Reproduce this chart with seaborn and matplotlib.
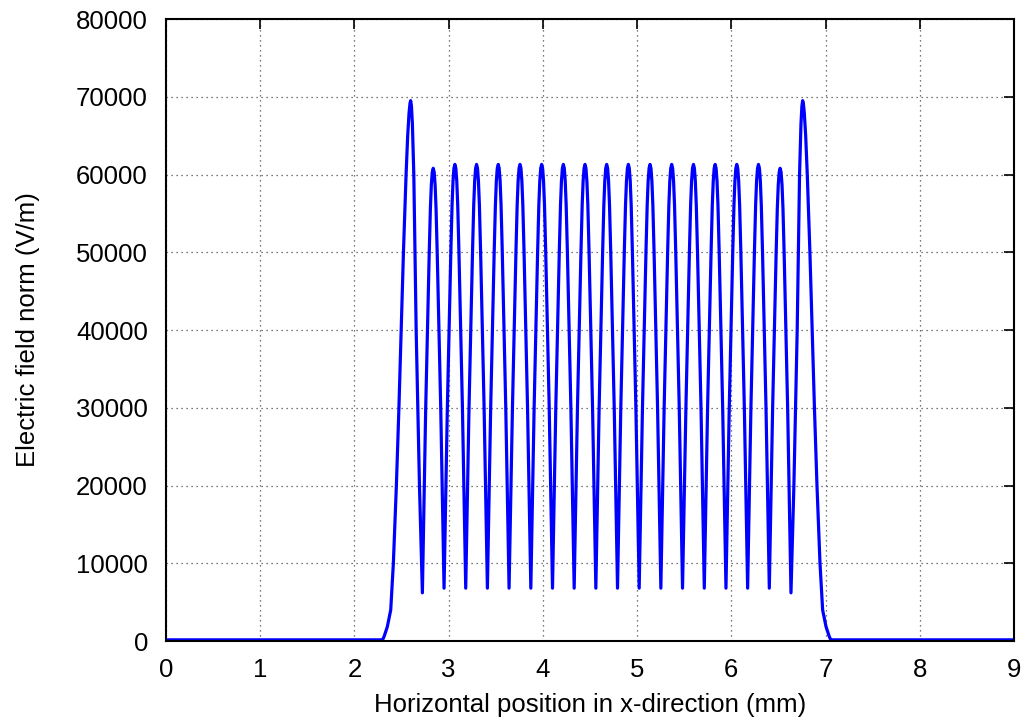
import numpy as np
import pandas as pd
import matplotlib
matplotlib.use("Agg")
import matplotlib.pyplot as plt
import seaborn as sns

# ---- data ----
# left flank (baseline, rise, first big peak and its falling side)
left_x = [0.0, 2.28, 2.30, 2.314, 2.349, 2.385, 2.413, 2.445, 2.472, 2.496, 2.52,
          2.548, 2.565, 2.58, 2.59, 2.597, 2.605, 2.615, 2.63, 2.655, 2.69]
left_y = [150, 150, 200, 550, 1840, 4000, 10000, 20000, 30000, 40000, 50000,
          60000, 65000, 68000, 69200, 69500, 68800, 66500, 60000, 40000, 20000]

# right flank (rising side of last big peak, fall and baseline)
right_x = [6.664, 6.699, 6.724, 6.739, 6.749, 6.757, 6.764, 6.774, 6.789, 6.806,
           6.834, 6.858, 6.882, 6.909, 6.941, 6.969, 7.005, 7.040, 7.054, 7.074, 9.0]
right_y = [20000, 40000, 60000, 66500, 68800, 69500, 69200, 68000, 65000, 60000,
           50000, 40000, 30000, 20000, 10000, 4000, 1840, 550, 200, 150, 150]

# valleys (cusps) between peaks
valley_x = [2.721, 2.951, 3.181, 3.411, 3.641, 3.872, 4.102, 4.332, 4.562,
            4.792, 5.022, 5.252, 5.482, 5.713, 5.943, 6.173, 6.403, 6.633]
valley_y = [6200, 6800, 6800, 6800, 6800, 6800, 6800, 6800, 6800,
            6800, 6800, 6800, 6800, 6800, 6800, 6800, 6800, 6200]

# inner peaks
peak_x = [2.836, 3.066, 3.296, 3.526, 3.757, 3.987, 4.217, 4.447, 4.677,
          4.907, 5.137, 5.367, 5.598, 5.828, 6.058, 6.288, 6.518]
peak_y = [60800, 61300, 61300, 61300, 61300, 61300, 61300, 61300, 61300,
          61300, 61300, 61300, 61300, 61300, 61300, 61300, 60800]

# shape of one inner peak (offset in mm, fraction of peak)
shape_dx = [-0.08, -0.043, -0.03, -0.02, -0.01, 0.0, 0.01, 0.02, 0.03, 0.043, 0.08]
shape_f = [0.49, 0.816, 0.915, 0.965, 0.992, 1.0, 0.992, 0.965, 0.915, 0.816, 0.49]

xticks = [0, 1, 2, 3, 4, 5, 6, 7, 8, 9]
yticks = [0, 10000, 20000, 30000, 40000, 50000, 60000, 70000, 80000]

# ---- assemble the path ----
xs = list(left_x)
ys = list(left_y)
for i in range(len(peak_x)):
    xs.append(valley_x[i]); ys.append(valley_y[i])
    for dx, f in zip(shape_dx, shape_f):
        xs.append(peak_x[i] + dx); ys.append(peak_y[i] * f)
xs.append(valley_x[-1]); ys.append(valley_y[-1])
xs += right_x
ys += right_y
df = pd.DataFrame({"x": xs, "y": ys})

sns.set_style("white")
plt.rcParams["font.family"] = ["Liberation Sans", "DejaVu Sans"]
plt.rcParams["text.color"] = "black"
plt.rcParams["axes.labelcolor"] = "black"

fig = plt.figure(figsize=(10.26, 7.23), dpi=100)
ax = fig.add_axes([0.1618, 0.1134, 0.9883 - 0.1618, 0.9737 - 0.1134])

sns.lineplot(data=df, x="x", y="y", sort=False, estimator=None,
             color=(0, 0, 1), linewidth=2.3, ax=ax)
ax.lines[0].set_solid_joinstyle("round")

ax.set_xlim(0, 9)
ax.set_ylim(0, 80000)
ax.set_xticks(xticks)
ax.set_yticks(yticks)
ax.set_xticklabels([str(t) for t in xticks])
ax.set_yticklabels([str(t) for t in yticks])
ax.grid(True, color="0.3", linestyle=(0, (1, 3)), linewidth=0.9)
for s in ax.spines.values():
    s.set_visible(True)
    s.set_color("black")
    s.set_linewidth(1.5)
ax.tick_params(direction="in", length=7, width=1.2, top=True, right=True,
               labelsize=18.5, colors="black", labelcolor="black")
ax.tick_params(axis="x", pad=12)
ax.tick_params(axis="y", pad=13)
ax.set_xlabel("Horizontal position in x-direction (mm)", fontsize=18.5,
              labelpad=8, color="black")
ax.set_ylabel("Electric field norm (V/m)", fontsize=18.5, labelpad=26,
              color="black")

fig.savefig("out.png", dpi=100)
